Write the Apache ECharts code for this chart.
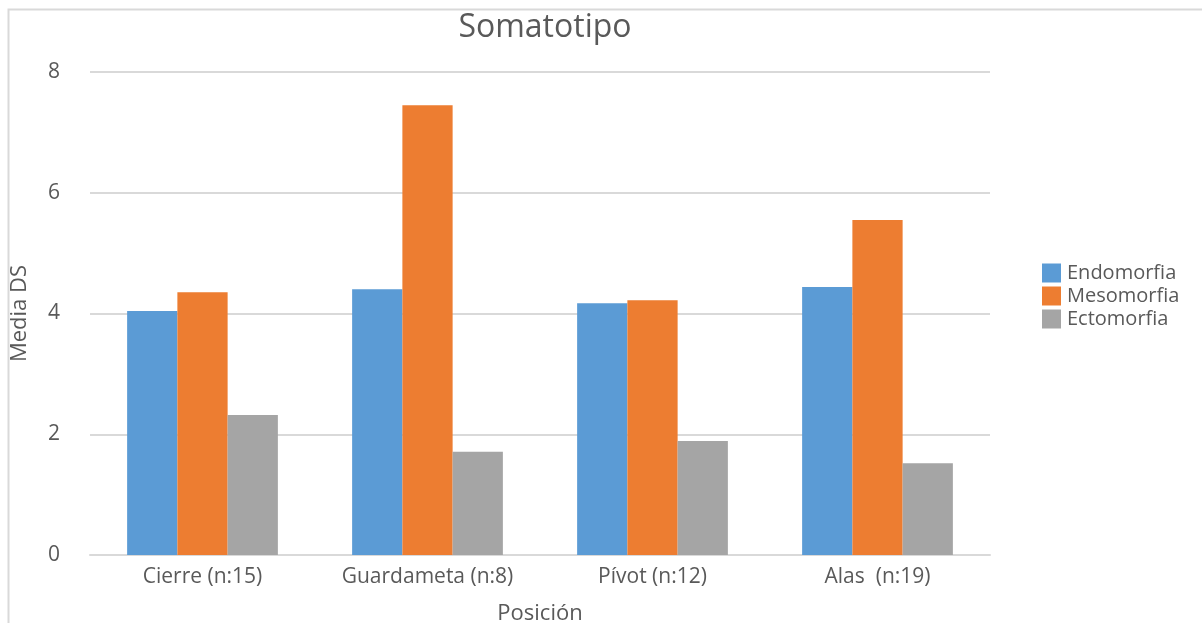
<!DOCTYPE html>
<html><head><meta charset="utf-8">
<script src="https://cdn.jsdelivr.net/npm/echarts@6/dist/echarts.min.js"></script>
<style>html,body{margin:0;padding:0;background:#fff}#c{width:1202px;height:623px}</style>
</head><body><div id="c"></div>
<script>
const categories = ['Cierre (n:15)', 'Guardameta (n:8)', 'Pívot (n:12)', 'Alas  (n:19)'];
const endomorfia = [4.04, 4.40, 4.17, 4.44];
const mesomorfia = [4.35, 7.45, 4.22, 5.55];
const ectomorfia = [2.32, 1.71, 1.89, 1.52];
const seriesNames = ['Endomorfia', 'Mesomorfia', 'Ectomorfia'];
const colors = ['#5b9bd5', '#ed7d31', '#a5a5a5'];
const font = '"Open Sans", Lato, sans-serif';
const chart = echarts.init(document.getElementById('c'), null, {renderer: 'canvas'});
chart.setOption({
  animation: false,
  color: colors,
  title: {text: 'Somatotipo', left: 540, top: 7, textAlign: 'center',
    textStyle: {fontFamily: font, fontSize: 32, fontWeight: 'normal', color: '#595959'}},
  graphic: [{type: 'rect', shape: {x: 8.5, y: 9.5, width: 1300, height: 700},
    style: {fill: 'none', stroke: '#d9d9d9', lineWidth: 2}, silent: true}],
  legend: {orient: 'vertical', left: 1037, top: 258, itemWidth: 19, itemHeight: 19, itemGap: 3,
    icon: 'rect', textStyle: {fontFamily: font, fontSize: 20, color: '#595959', padding: [0,0,0,1]},
    data: seriesNames},
  grid: {left: 90, right: 212, top: 72, bottom: 68, outerBoundsMode: 'none', containLabel: false},
  xAxis: {type: 'category', data: categories, name: 'Posición', nameLocation: 'middle', nameGap: 48,
    nameTextStyle: {fontFamily: font, fontSize: 22, color: '#595959'},
    axisLine: {lineStyle: {color: '#d9d9d9', width: 2}}, axisTick: {show: false},
    axisLabel: {fontFamily: font, fontSize: 21, color: '#595959', margin: 12}},
  yAxis: {type: 'value', min: 0, max: 8, interval: 2, name: 'Media DS', nameLocation: 'middle', nameGap: 59,
    nameTextStyle: {fontFamily: font, fontSize: 22, color: '#595959'},
    axisLine: {show: false}, axisTick: {show: false},
    axisLabel: {fontFamily: font, fontSize: 21, color: '#595959', margin: 30},
    splitLine: {lineStyle: {color: '#d9d9d9', width: 2}}},
  series: [
    {name: seriesNames[0], type: 'bar', data: endomorfia, barGap: '0%', barCategoryGap: '33%'},
    {name: seriesNames[1], type: 'bar', data: mesomorfia, barGap: '0%', barCategoryGap: '33%'},
    {name: seriesNames[2], type: 'bar', data: ectomorfia, barGap: '0%', barCategoryGap: '33%'}
  ]
});
</script></body></html>
